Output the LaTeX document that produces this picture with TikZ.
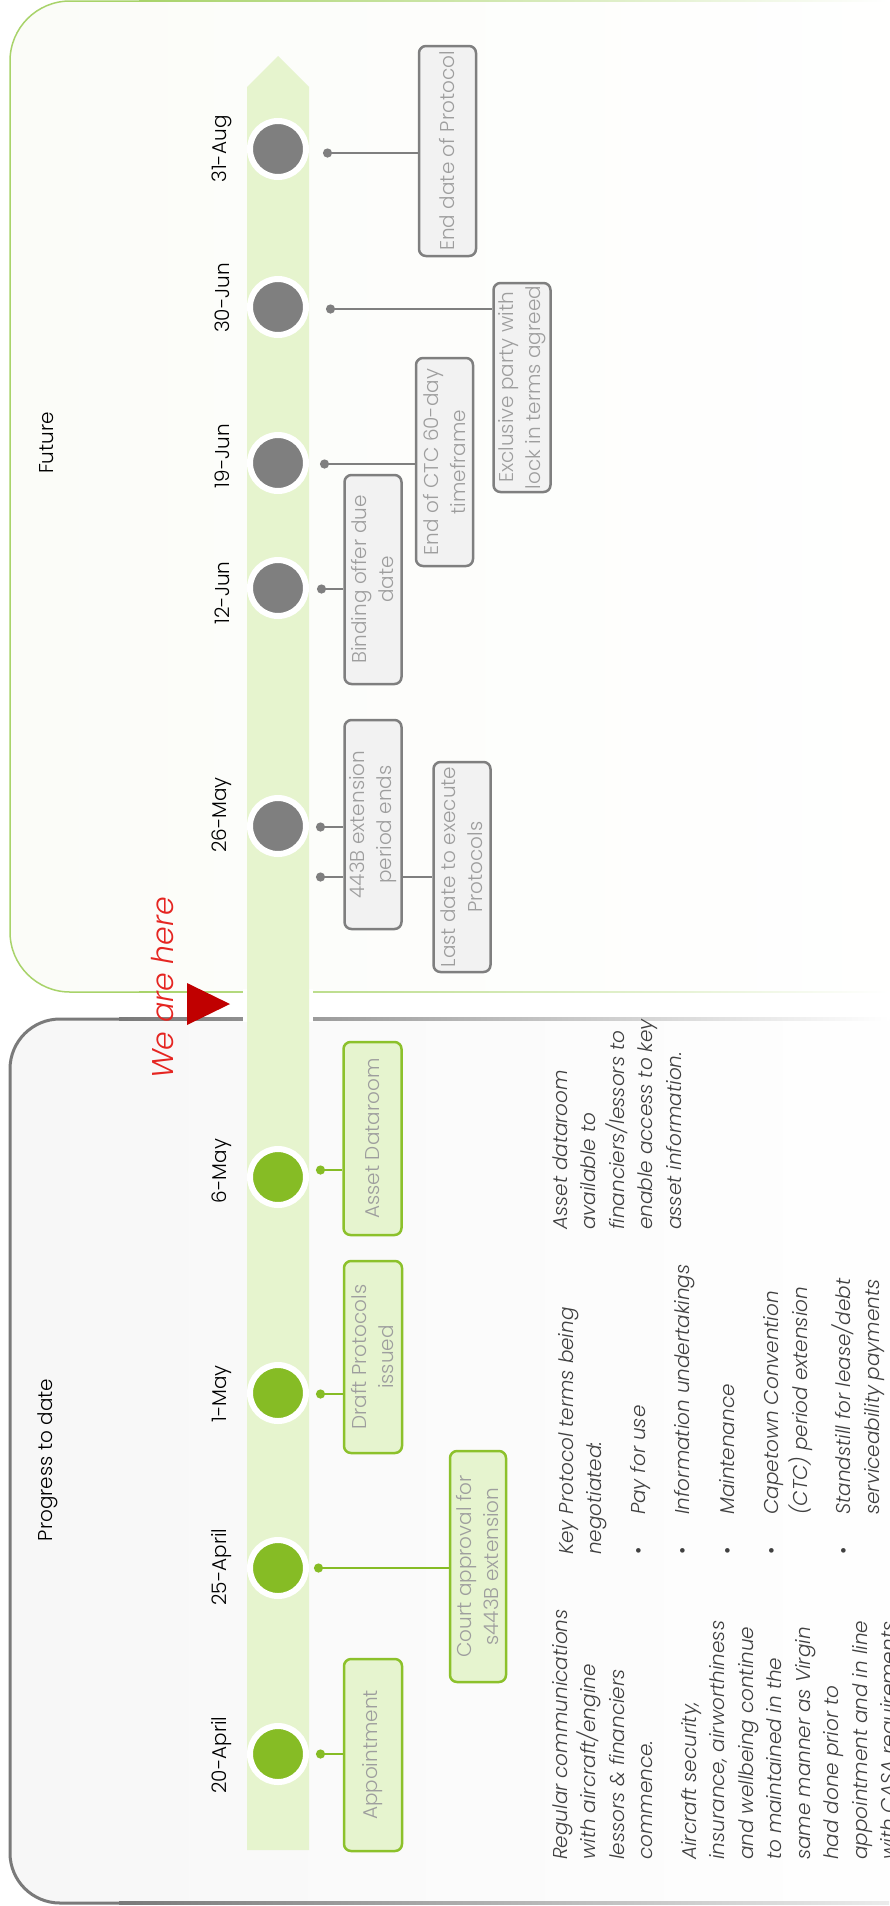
\documentclass[tikz,border=0pt]{standalone}
\usepackage{fontspec}
\IfFontExistsTF{Poppins Light}{%
  \IfFontExistsTF{Poppins Light Italic}{%
    \setmainfont{Poppins Light}[ItalicFont={Poppins Light Italic}]}{%
    \setmainfont{Poppins Light}}}{%
  \setmainfont{Poppins}}
\usetikzlibrary{arrows.meta}
\definecolor{cgreen}{HTML}{86BC25}
\definecolor{bgreen}{HTML}{8CC12B}
\definecolor{bgfill}{HTML}{E6F4CF}
\definecolor{bandc}{HTML}{E6F4CE}
\definecolor{cgray}{HTML}{7F7F7F}
\definecolor{gfill}{HTML}{F2F2F2}
\definecolor{boxtext}{HTML}{9E9E9E}
\definecolor{notetext}{HTML}{404040}
\definecolor{herered}{HTML}{E52521}
\definecolor{trired}{HTML}{C00000}
\definecolor{futline}{HTML}{A8D36A}
\definecolor{futfill}{HTML}{FBFCF8}
\definecolor{proline}{HTML}{7A7A7A}
\definecolor{profill}{HTML}{F7F7F7}
\begin{document}
\begin{tikzpicture}[x=1pt,y=-1pt,
  datelbl/.style={rotate=90, font=\fontsize{20}{24}\selectfont, text=black, inner sep=0pt},
  gcirc/.style={circle, minimum size=56pt, inner sep=0pt, fill=cgreen, draw=white, line width=6pt},
  ycirc/.style={circle, minimum size=56pt, inner sep=0pt, fill=cgray, draw=white, line width=6pt},
  gbox/.style={rotate=90, draw=bgreen, fill=bgfill, line width=2.5pt, rounded corners=7pt, align=center, text=boxtext, font=\fontsize{20}{27}\selectfont, inner sep=0pt, minimum height=58pt},
  ybox/.style={rotate=90, draw=cgray, fill=gfill, line width=2.5pt, rounded corners=7pt, align=center, text=boxtext, font=\fontsize{20}{27}\selectfont, inner sep=0pt, minimum height=57pt},
  gconn/.style={draw=cgreen, line width=2.5pt, {Circle[length=9pt]}-},
  yconn/.style={draw=cgray, line width=2.5pt, {Circle[length=9pt]}-},
  yline/.style={draw=cgray, line width=2.5pt},
  note/.style={rotate=90, align=left, text=notetext, font=\itshape\fontsize{20}{28.5}\selectfont, inner sep=0pt, anchor=north west},
  section/.style={rotate=90, font=\fontsize{20}{24}\selectfont, text=black, inner sep=0pt}
]
\useasboundingbox (0,0) rectangle (889,1906);
\fill[white] (0,0) rectangle (889,1906);

% Future panel
\shade[left color=futfill, right color=white, rounded corners=60pt] (10,1) rectangle (960,992);
\draw[futline, line width=1.5pt, rounded corners=60pt] (140,1) -- (10,1) -- (10,992) -- (140,992);
\shade[left color=futline, middle color=futline!55!white, right color=white] (139,0.25) rectangle (889,1.75);
\shade[left color=futline, middle color=futline!45!white, right color=white] (139,991.25) rectangle (889,992.75);

% Progress panel
\shade[left color=profill, right color=white, rounded corners=50pt] (10,1019) rectangle (960,1903);
\draw[proline, line width=3pt, rounded corners=50pt] (120,1019) -- (10,1019) -- (10,1903) -- (120,1903);
\shade[left color=proline, middle color=proline!40!white, right color=white] (119,1017.5) rectangle (889,1020.5);
\shade[left color=proline, middle color=proline!60!white, right color=proline!15!white] (119,1901.5) rectangle (889,1904.5);

% gaps of the panel borders around the band
\fill[white] (243,989) rectangle (313,995);
\fill[white] (243,1016) rectangle (313,1022);

% timeline band
\fill[bandc] (247,1850) -- (247,87) -- (278,56) -- (309,87) -- (309,1850) -- cycle;

% section labels
\node[section] (future) at (47,443) {Future};
\node[section] (progress) at (48,1460) {Progress to date};

% we are here
\node[rotate=90, font=\itshape\fontsize{30}{36}\selectfont, text=herered, inner sep=0pt] (here) at (163,988) {We are here};
\fill[trired] (187,983) -- (230,1004) -- (187,1025) -- cycle;

% circles
\node[ycirc] (c31aug) at (278,149) {};
\node[ycirc] (c30jun) at (278,307) {};
\node[ycirc] (c19jun) at (278,463) {};
\node[ycirc] (c12jun) at (278,588) {};
\node[ycirc] (c26may) at (278,826) {};
\node[gcirc] (c6may) at (278,1177) {};
\node[gcirc] (c1may) at (278,1393) {};
\node[gcirc] (c25apr) at (278,1568) {};
\node[gcirc] (c20apr) at (278,1754) {};

% dates
\node[datelbl] (l31aug) at (222,149) {31-Aug};
\node[datelbl] (l30jun) at (222,298) {30-Jun};
\node[datelbl] (l19jun) at (222,456) {19-Jun};
\node[datelbl] (l12jun) at (222,593) {12-Jun};
\node[datelbl] (l26may) at (222,815) {26-May};
\node[datelbl] (l6may) at (222,1171) {6-May};
\node[datelbl] (l1may) at (222,1394) {1-May};
\node[datelbl] (l25apr) at (222,1567) {25-April};
\node[datelbl] (l20apr) at (222,1755) {20-April};

% boxes
\node[ybox, minimum width=210pt] (bend) at (447.5,151) {End date of Protocol};
\node[ybox, minimum width=209pt] (bexcl) at (522,387.5) {Exclusive party with\\lock in terms agreed};
\node[ybox, minimum width=208pt] (bctc) at (444.5,462) {End of CTC 60-day\\timeframe};
\node[ybox, minimum width=209pt] (bbind) at (373,579.5) {Binding offer due\\date};
\node[ybox, minimum width=209pt] (b443) at (373,824.5) {443B extension\\period ends};
\node[ybox, minimum width=210pt] (blast) at (462,867) {Last date to execute\\Protocols};
\node[gbox, minimum width=193pt] (basset) at (372.5,1138.5) {Asset Dataroom};
\node[gbox, minimum width=192pt] (bdraft) at (373,1357) {Draft Protocols\\issued};
\node[gbox, minimum width=231pt, minimum height=56pt] (bcourt) at (478,1566.5) {Court approval for\\s443B extension};
\node[gbox, minimum width=192pt] (bapp) at (373,1755) {Appointment};

% connectors
\coordinate (p31aug) at (323,153);
\coordinate (p30jun) at (326,309);
\coordinate (p19jun) at (320,464);
\coordinate (p12jun) at (317,589);
\coordinate (p26a) at (316,827);
\coordinate (p26b) at (316,877);
\coordinate (p6may) at (316,1170);
\coordinate (p1may) at (316,1394);
\coordinate (p25apr) at (314,1568);
\coordinate (p20apr) at (316,1754);
\draw[yconn] (p31aug) -- (p31aug -| bend.north);
\draw[yconn] (p30jun) -- (p30jun -| bexcl.north);
\draw[yconn] (p19jun) -- (p19jun -| bctc.north);
\draw[yconn] (p12jun) -- (p12jun -| bbind.north);
\draw[yconn] (p26a) -- (p26a -| b443.north);
\draw[yconn] (p26b) -- (p26b -| b443.north);
\draw[yline] (p26b -| b443.south) -- (p26b -| blast.north);
\draw[gconn] (p6may) -- (p6may -| basset.north);
\draw[gconn] (p1may) -- (p1may -| bdraft.north);
\draw[gconn] (p25apr) -- (p25apr -| bcourt.north);
\draw[gconn] (p20apr) -- (p20apr -| bapp.north);

% notes
\node[note] (nreg) at (552,1860) {Regular communications\\with aircraft/engine\\lessors \& financiers\\commence.\\[15pt]Aircraft security,\\insurance, airworthiness\\and wellbeing continue\\to maintained in the\\same manner as Virgin\\had done prior to\\appointment and in line\\with CASA requirements};
\node[note] (nkey) at (558,1555) {Key Protocol terms being\\negotiated:\\[15pt]\makebox[40pt][l]{\upshape\textbullet}Pay for use\\[16pt]\makebox[40pt][l]{\upshape\textbullet}Information undertakings\\[16pt]\makebox[40pt][l]{\upshape\textbullet}Maintenance\\[16pt]\makebox[40pt][l]{\upshape\textbullet}Capetown Convention\\\makebox[40pt][l]{}(CTC) period extension\\[15pt]\makebox[40pt][l]{\upshape\textbullet}Standstill for lease/debt\\\makebox[40pt][l]{}serviceability payments};
\node[note] (nasset) at (552,1230) {Asset dataroom\\available to\\financiers/lessors to\\enable access to key\\asset information.};
\end{tikzpicture}
\end{document}
